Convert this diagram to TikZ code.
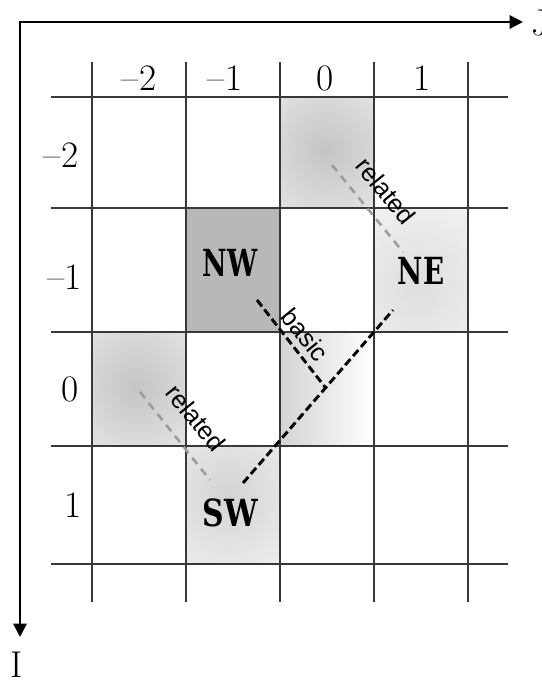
\documentclass[tikz,border=0pt]{standalone}
\usepackage{fontspec}
\usetikzlibrary{arrows.meta}
\newfontfamily\tagfont{Liberation Sans}
\newfontfamily\cornerfont{DejaVu Serif}
\definecolor{gridGray}{HTML}{383838}
\definecolor{cellGray}{HTML}{B8B8B8}
\definecolor{relatedGray}{HTML}{9C9C9C}

\begin{document}
\begin{tikzpicture}[x=0.75pt, y=-0.75pt,
    gridline/.style={draw=gridGray, line width=1.3pt},
    axis/.style={line width=1.5pt, {Triangle[length=10pt, width=10pt]}-{Triangle[length=10pt, width=10pt]}},
    idx/.style={font=\fontsize{28}{28}\selectfont, inner sep=0pt},
    corner/.style={font=\cornerfont\fontsize{28}{28}\selectfont\bfseries, inner sep=0pt},
    basicline/.style={line width=2.2pt, dash pattern=on 6pt off 3pt},
    relline/.style={draw=relatedGray, line width=1.9pt, dash pattern=on 6pt off 4.5pt},
    tag/.style={font=\tagfont\fontsize{19}{19}\selectfont, rotate=-51, inner sep=0pt}]
    \useasboundingbox (0,0) rectangle (542,683);

    % shaded cells
    \fill[cellGray] (186,208) rectangle (280,332);
    \begin{scope}
        \clip (280,97) rectangle (374,208);
        \shade[inner color=black!23, outer color=black!4] (326,150) circle (120);
    \end{scope}
    \begin{scope}
        \clip (92,332) rectangle (186,446);
        \shade[inner color=black!23, outer color=black!4] (136,386) circle (120);
    \end{scope}
    \begin{scope}
        \clip (374,208) rectangle (468,332);
        \shade[inner color=black!13, outer color=black!3] (418,285) circle (120);
    \end{scope}
    \begin{scope}
        \clip (186,446) rectangle (280,564);
        \shade[inner color=black!17, outer color=black!3] (228,495) circle (120);
    \end{scope}
    \begin{scope}
        \clip (280,332) rectangle (374,446);
        \shade[left color=black!17, right color=white] (280,332) rectangle (374,446);
    \end{scope}

    % grid
    \foreach \x in {92,186,280,374,468}
        \draw[gridline] (\x,62) -- (\x,602);
    \foreach \y in {97,208,332,446,564}
        \draw[gridline] (51,\y) -- (508,\y);

    % axes
    \coordinate (origin) at (20,22);
    \coordinate (jend) at (523,22);
    \coordinate (iend) at (20,637);
    \draw[axis] (jend) -- (origin) -- (iend);
    \node[idx, anchor=west] (jlabel) at (531,23) {J};
    \node[idx, anchor=north] (ilabel) at (17,652) {I};

    % column and row indices
    \node[idx] (jm2) at (139,78) {--2};
    \node[idx] (jm1) at (225,78) {--1};
    \node[idx] (j0) at (325,78) {0};
    \node[idx] (j1) at (422,78) {1};
    \node[idx] (im2) at (61,155) {--2};
    \node[idx] (im1) at (65,277) {--1};
    \node[idx] (i0) at (70,389) {0};
    \node[idx] (i1) at (73,505) {1};

    % corner cells
    \node[corner] (nw) at (230,263) {\scalebox{0.72}[1]{NW}};
    \node[corner] (ne) at (421,271) {\scalebox{0.74}[1]{NE}};
    \node[corner] (sw) at (230,513) {\scalebox{0.8}[1]{SW}};

    % related links
    \coordinate (relTopA) at (332,165);
    \coordinate (relTopB) at (403,252);
    \draw[relline] (relTopA) -- (relTopB);
    \node[tag] (relTop) at (386,191) {related};
    \coordinate (relLowA) at (140,392);
    \coordinate (relLowB) at (210,480);
    \draw[relline] (relLowA) -- (relLowB);
    \node[tag] (relLow) at (196,418) {related};

    % basic link
    \coordinate (swEnd) at (243,483);
    \coordinate (neEnd) at (393,310);
    \coordinate (nwEnd) at (257,300);
    \coordinate (foot) at (325,387);
    \draw[basicline] (swEnd) -- (neEnd);
    \draw[basicline] (nwEnd) -- (foot);
    \node[tag] (basic) at (305,335) {basic};
\end{tikzpicture}
\end{document}
